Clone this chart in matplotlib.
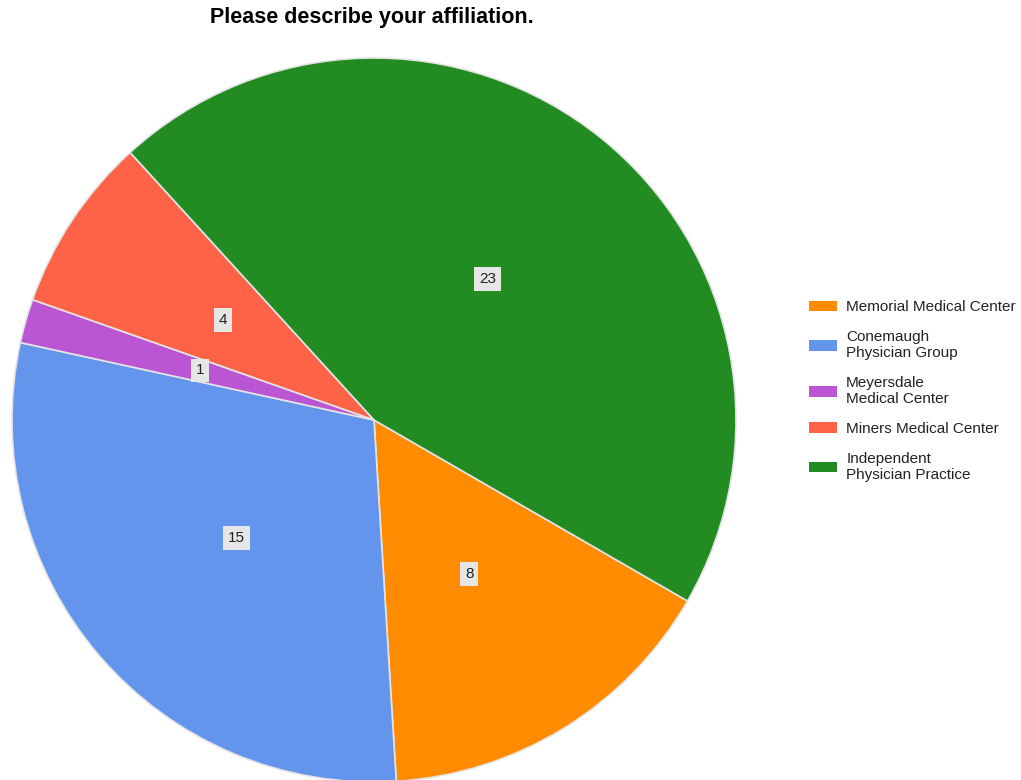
import matplotlib
matplotlib.use("Agg")
import matplotlib.pyplot as plt

# Survey answers
categories = ["Memorial Medical Center", "Conemaugh\nPhysician Group",
              "Meyersdale\nMedical Center", "Miners Medical Center",
              "Independent\nPhysician Practice"]
counts = [8, 15, 1, 4, 23]
colors = ["#FF8C00", "#6495ED", "#BA55D3", "#FF6347", "#228B22"]

plt.rcParams["font.family"] = ["Liberation Sans", "DejaVu Sans"]

fig = plt.figure(figsize=(10.21, 7.80), dpi=100)

# Pie axes placed so the circle sits where the reference has it
ax = fig.add_axes([12 / 1021, -2 / 780, 724 / 1021, 724 / 780])
wedges, texts = ax.pie(
    counts,
    colors=colors,
    startangle=-30,
    counterclock=False,
    labels=[str(c) for c in counts],
    labeldistance=0.5,
    wedgeprops=dict(edgecolor="#e4e4e4", linewidth=1.2),
    textprops=dict(fontsize=11, color="#222222", ha="center", va="center"),
)
for t in texts:
    t.set_bbox(dict(facecolor="#e6e6e6", edgecolor="none", pad=3.5))
ax.set_xlim(-1, 1)
ax.set_ylim(-1, 1)
ax.set_aspect("equal")

fig.text(372 / 1021, 1 - 17 / 780, "Please describe your affiliation.",
         ha="center", va="center", fontsize=15.5, fontweight="bold")

leg = fig.legend(
    wedges, categories,
    loc="center left",
    bbox_to_anchor=(795 / 1021, 1 - 391 / 780),
    frameon=False,
    fontsize=11,
    handlelength=1.85,
    handleheight=0.7,
    handletextpad=0.6,
    labelspacing=1.05,
)
for h in leg.legend_handles:
    h.set_edgecolor("none")
for t in leg.get_texts():
    t.set_color("#222222")
    t.set_linespacing(1.15)

fig.savefig("out.png", dpi=100, facecolor="white")
plt.close(fig)
